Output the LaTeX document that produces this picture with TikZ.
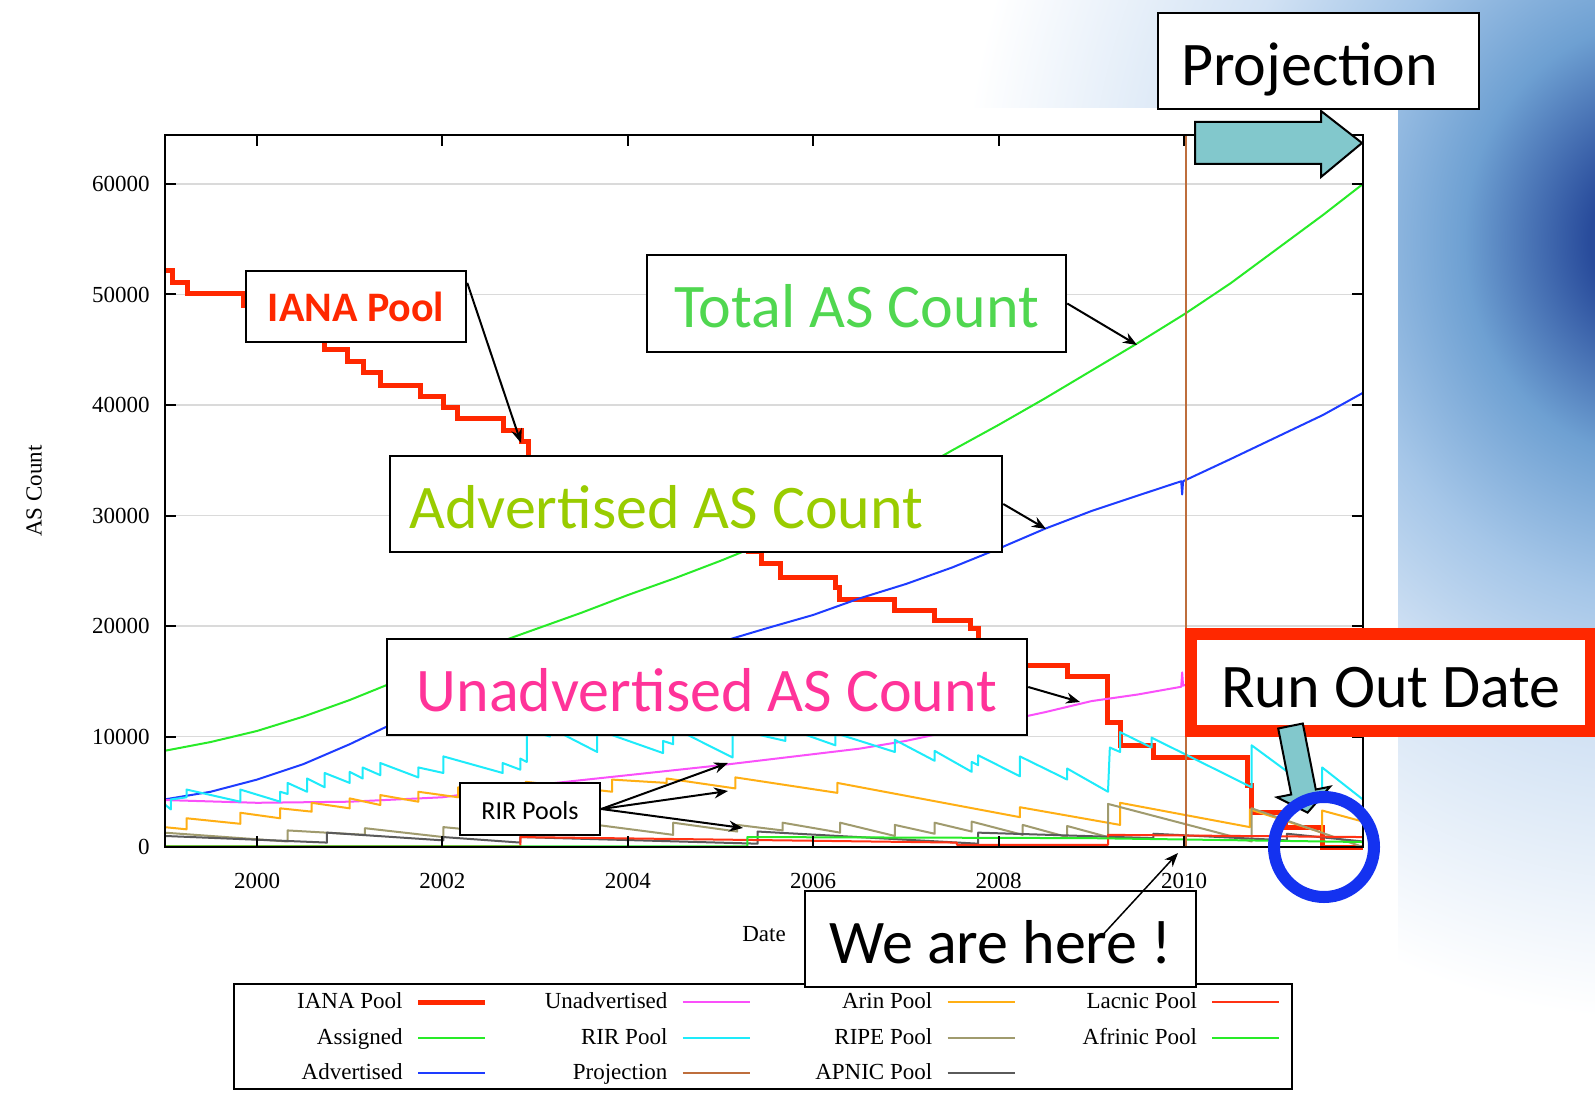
\documentclass[tikz,border=0pt]{standalone}
\usepackage{fontspec}
\setmainfont{Liberation Serif}
\newfontfamily\calibri{Carlito}
\usetikzlibrary{arrows.meta}

\definecolor{ianared}{RGB}{255,40,0}
\definecolor{assigngreen}{RGB}{40,235,40}
\definecolor{advblue}{RGB}{30,60,255}
\definecolor{unadvpink}{RGB}{250,80,250}
\definecolor{rircyan}{RGB}{30,235,250}
\definecolor{projbrown}{RGB}{190,110,60}
\definecolor{arinorange}{RGB}{255,175,20}
\definecolor{ripeolive}{RGB}{160,155,110}
\definecolor{apnicgray}{RGB}{90,90,90}
\definecolor{lacnicred}{RGB}{255,50,20}
\definecolor{afrinicgreen}{RGB}{40,235,40}
\definecolor{gridgray}{RGB}{218,218,218}
\definecolor{totalgreen}{RGB}{80,215,80}
\definecolor{advlabel}{RGB}{153,204,0}
\definecolor{unadvlabel}{RGB}{255,51,153}
\definecolor{runred}{RGB}{255,40,0}
\definecolor{circleblue}{RGB}{20,50,240}
\definecolor{arrowteal}{RGB}{130,200,204}
\definecolor{glownavy}{RGB}{40,75,155}
\definecolor{glowmid}{RGB}{110,160,210}
\definecolor{glowlight}{RGB}{165,198,232}
\definecolor{glowpale}{RGB}{210,226,244}

\pgfdeclareradialshading{slideglow}{\pgfpoint{0bp}{0bp}}{color(0bp)=(glownavy); color(2.5bp)=(glownavy); color(7bp)=(glowmid); color(11.5bp)=(glowlight); color(16bp)=(glowpale); color(25bp)=(white); color(50bp)=(white)}

\begin{document}
\begin{tikzpicture}[x=0.5pt,y=-0.5pt,
    plottext/.style={font=\fontsize{11.5}{13}\selectfont,inner sep=0pt},
    gridline/.style={gridgray,line width=0.75pt},
    curve/.style={line width=1pt,line join=round},
    notebox/.style={draw,line width=1.25pt,fill=white,inner sep=0pt},
    bigtext/.style={font=\calibri\fontsize{31}{36}\selectfont,text height=24.5pt,text depth=0pt},
    ptr/.style={-{Stealth[length=7pt,width=5.5pt]},line width=1pt},
    fatarrow/.style={fill=arrowteal,draw=black,line width=1pt}]
    \useasboundingbox (0,0) rectangle (1595,1096);
    \fill[white] (0,0) rectangle (1595,1096);
    \begin{scope}
        \clip (850,0) -- (1595,0) -- (1595,1096) -- (1398,1096) -- (1398,108) -- (850,108) -- cycle;
        \shade[shading=slideglow] (1660,240) ellipse (350pt and 390pt);
    \end{scope}

    \foreach \k in {1,...,6}
        \draw[gridline] (165,{847-110.5*\k}) -- (1363,{847-110.5*\k});

    % data, x in years after 2000, y in thousands
    \begin{scope}[shift={(257,847)},x={(46.35pt,0pt)},y={(0pt,5.525pt)}]
        \clip (-0.9925,-0.3) rectangle (11.93,64.4);
        \draw[ianared,line width=2.5pt] (-1,52.2) -- (-0.91,52.2) -- (-0.91,51.1) -- (-0.75,51.1) -- (-0.75,50.1) -- (-0.15,50.1) -- (-0.15,49) -- (0.1,49) -- (0.1,48) -- (0.3,48) -- (0.3,47) -- (0.5,47) -- (0.5,46) -- (0.73,46) -- (0.73,45) -- (0.98,45) -- (0.98,43.9) -- (1.15,43.9) -- (1.15,42.9) -- (1.33,42.9) -- (1.33,41.8) -- (1.76,41.8) -- (1.76,40.8) -- (2.01,40.8) -- (2.01,39.8) -- (2.16,39.8) -- (2.16,38.8) -- (2.66,38.8) -- (2.66,37.7) -- (2.85,37.7) -- (2.85,36.7) -- (2.93,36.7) -- (2.93,35) -- (3.3,35) -- (3.3,34.4) -- (3.7,34.4) -- (3.7,33.3) -- (4,33.3) -- (4,32.2) -- (4.3,32.2) -- (4.3,31.1) -- (4.6,31.1) -- (4.6,30) -- (4.9,30) -- (4.9,28.8) -- (5.1,28.8) -- (5.1,27.7) -- (5.3,27.7) -- (5.3,26.7) -- (5.44,26.7) -- (5.44,25.7) -- (5.65,25.7) -- (5.65,24.4) -- (6.24,24.4) -- (6.24,23.5) -- (6.28,23.5) -- (6.28,22.4) -- (6.88,22.4) -- (6.88,21.4) -- (7.31,21.4) -- (7.31,20.5) -- (7.7,20.5) -- (7.7,19.8) -- (7.78,19.8) -- (7.78,18.6) -- (8,18.6) -- (8,17.5) -- (8.15,17.5) -- (8.15,16.4) -- (8.74,16.4) -- (8.74,15.4) -- (9.17,15.4) -- (9.17,11.3) -- (9.31,11.3) -- (9.31,9.2) -- (9.67,9.2) -- (9.67,8.1) -- (10.69,8.1) -- (10.69,5.6) -- (10.73,5.6) -- (10.73,3.1) -- (11.09,3.1) -- (11.09,1.8) -- (11.49,1.8) -- (11.49,0) -- (11.93,0);
        \draw[assigngreen,curve] (-1,8.7) -- (-0.5,9.5) -- (0,10.5) -- (0.5,11.8) -- (1,13.3) -- (1.5,15) -- (2,16.7) -- (2.5,18.2) -- (3,19.7) -- (3.5,21.2) -- (4,22.8) -- (4.5,24.3) -- (5,25.9) -- (5.5,27.6) -- (6,29.6) -- (6.5,31.6) -- (7,33.5) -- (7.5,35.9) -- (8,38.2) -- (8.5,40.6) -- (9,43.1) -- (9.5,45.6) -- (10,48.2) -- (10.5,51) -- (11,54.1) -- (11.5,57.2) -- (11.93,60);
        \draw[advblue,curve] (-1,4.3) -- (-0.5,5) -- (0,6.1) -- (0.5,7.5) -- (1,9.3) -- (1.4,10.9) -- (2,12.8) -- (3,15) -- (4,16.9) -- (5.1,18.8) -- (5.5,19.8) -- (6,21) -- (6.5,22.5) -- (7,23.8) -- (7.5,25.3) -- (8,27) -- (8.5,28.8) -- (9,30.4) -- (9.5,31.8) -- (9.97,33.1) -- (9.98,31.9) -- (9.99,33.1) -- (10.5,35.1) -- (11,37.1) -- (11.5,39.1) -- (11.93,41.1);
        \draw[unadvpink,curve] (-1,4.25) -- (0,4) -- (1,4.1) -- (2,4.5) -- (3,5.6) -- (4,6.5) -- (5,7.4) -- (6,8.4) -- (6.5,8.9) -- (7,9.6) -- (7.5,10.5) -- (8,11.3) -- (8.5,12.2) -- (9,13.2) -- (9.5,13.8) -- (9.97,14.5) -- (9.98,15.8) -- (9.99,14.6) -- (10.02,14.7);
        \draw[rircyan,curve] (-1,3.9) -- (-0.93,3.4) -- (-0.93,4.3) -- (-0.76,4.5) -- (-0.76,5.2) -- (-0.18,4.1) -- (-0.18,5.2) -- (0.25,4.1) -- (0.25,5) -- (0.33,4.8) -- (0.33,5.8) -- (0.54,5) -- (0.54,6.2) -- (0.73,5.4) -- (0.73,6.7) -- (1,5.8) -- (1,6.8) -- (1.14,6.2) -- (1.14,7.2) -- (1.33,6.5) -- (1.33,7.6) -- (1.74,6.3) -- (1.74,7.2) -- (2.01,6.7) -- (2.01,8.2) -- (2.65,6.7) -- (2.65,7.6) -- (2.84,7) -- (2.84,8) -- (2.91,7.7) -- (2.91,10.6) -- (3.16,10) -- (3.16,10.8) -- (3.67,8.6) -- (3.67,10.6) -- (4.38,8.5) -- (4.38,9.6) -- (4.49,9.3) -- (4.49,10.8) -- (5.13,8.1) -- (5.13,10.7) -- (5.7,9.6) -- (5.7,10.8) -- (6.24,9.2) -- (6.24,10.3) -- (6.88,8.6) -- (6.88,9.7) -- (7.31,7.8) -- (7.31,8.7) -- (7.71,6.8) -- (7.71,7.7) -- (7.78,7.4) -- (7.78,8.3) -- (8.23,6.4) -- (8.23,8.2) -- (8.74,6.1) -- (8.74,7.1) -- (9.18,5) -- (9.2,9) -- (9.31,8.6) -- (9.31,10.4) -- (9.65,9) -- (9.65,9.9) -- (10.73,5.4) -- (10.73,9.2) -- (11.49,4.5) -- (11.49,7.2) -- (11.93,4.3);
        \draw[arinorange,curve] (-1,1.8) -- (-0.76,1.6) -- (-0.76,2.6) -- (-0.18,2.1) -- (-0.18,3.1) -- (0.25,2.6) -- (0.25,3.5) -- (0.59,3.2) -- (0.59,4) -- (1,3.5) -- (1,4.4) -- (1.33,3.8) -- (1.33,4.7) -- (1.74,4.1) -- (1.74,5) -- (2.17,4.5) -- (2.17,5.4) -- (2.9,5) -- (2.9,5.9) -- (3.83,5) -- (3.83,6.1) -- (4.42,5.8) -- (4.42,6.2) -- (5.16,5.3) -- (5.16,6.3) -- (6.26,4.9) -- (6.26,5.8) -- (8.23,2.7) -- (8.23,3.6) -- (9.31,2) -- (9.31,4) -- (10.71,1.8) -- (10.71,3.4) -- (11.49,1.3) -- (11.49,3.3) -- (11.93,2.3);
        \draw[ripeolive,curve] (-1,1.3) -- (0.33,0.5) -- (0.33,1.5) -- (1.165,1.1) -- (1.165,1.7) -- (2.01,0.9) -- (2.01,1.8) -- (2.89,1.1) -- (2.89,1.9) -- (3.3,1.5) -- (3.3,2.4) -- (4.49,1.1) -- (4.49,2.2) -- (5.18,1.4) -- (5.18,2) -- (5.67,1.5) -- (5.67,2.2) -- (6.29,1.3) -- (6.29,2.2) -- (6.88,1) -- (6.88,2) -- (7.31,1.2) -- (7.31,2.2) -- (7.71,1.4) -- (7.71,2.3) -- (8.26,1.1) -- (8.26,2) -- (8.74,0.9) -- (8.74,1.9) -- (9.18,0.9) -- (9.18,3.9) -- (10.73,0.5) -- (10.73,3.5) -- (11.93,0);
        \draw[apnicgray,curve] (-1,1) -- (0.755,0.4) -- (0.755,1.3) -- (2.01,0.6) -- (2.01,0.9) -- (2.84,0.4) -- (2.84,0.9) -- (5.4,0.3) -- (5.4,1.4) -- (7.78,0.3) -- (7.78,1.3) -- (9.67,0.8) -- (9.67,1.2) -- (11.11,0.6) -- (11.11,1.2) -- (11.93,0.5);
        \draw[lacnicred,curve] (-1,0.05) -- (2.84,0.05) -- (2.84,0.9) -- (7.55,0.4) -- (7.55,0.2) -- (9.18,0.2) -- (9.18,1.1) -- (11.93,0.9);
        \draw[afrinicgreen,curve] (-1,0.05) -- (5.29,0.05) -- (5.29,0.9) -- (9,0.8) -- (11.93,0.45);
    \end{scope}

    \draw[projbrown,line width=1pt] (1186,135) -- (1186,847);
    \draw[line width=1pt] (165,135) rectangle (1363,847);
    \foreach \v [count=\k from 0] in {0,10000,20000,30000,40000,50000,60000} {
        \draw[line width=1pt] (165,{847-110.5*\k}) -- +(11,0) (1363,{847-110.5*\k}) -- +(-11,0);
        \node[plottext,anchor=east] (ylab\k) at (150,{847-110.5*\k}) {\v};
    }
    \foreach \yr [count=\i from 0] in {2000,2002,2004,2006,2008,2010} {
        \draw[line width=1pt] ({257+185.4*\i},847) -- +(0,-11) ({257+185.4*\i},135) -- +(0,11);
        \node[plottext] (xlab\i) at ({257+185.4*\i},881) {\yr};
    }
    \node[plottext,rotate=90] (ylabel) at (34,491) {AS Count};
    \node[plottext] (xlabel) at (764,934) {Date};

    % key
    \draw[line width=0.75pt] (234,984) rectangle (1292,1089);
    \foreach \lab/\c/\r/\clr/\w in {IANA Pool/0/0/ianared/2.5pt, Assigned/0/1/assigngreen/1pt, Advertised/0/2/advblue/1pt,
            Unadvertised/1/0/unadvpink/1pt, RIR Pool/1/1/rircyan/1pt, Projection/1/2/projbrown/1pt,
            Arin Pool/2/0/arinorange/1pt, RIPE Pool/2/1/ripeolive/1pt, APNIC Pool/2/2/apnicgray/1pt,
            Lacnic Pool/3/0/lacnicred/1pt, Afrinic Pool/3/1/afrinicgreen/1pt} {
        \node[plottext,anchor=base east] (key-\c-\r) at ({403+264.8*\c},{1008.5+35.5*\r}) {\lab};
        \draw[\clr,line width=\w] ({418+264.8*\c},{1002+35.5*\r}) -- +(67,0);
    }

    % callouts
    \node[notebox,minimum width=110pt,minimum height=35.5pt,font=\calibri\bfseries\fontsize{21}{25}\selectfont,text height=15pt,text depth=0pt,text=ianared] (ianabox) at (356,306.5) {IANA Pool};
    \node[notebox,bigtext,minimum width=209.5pt,minimum height=48.5pt,text=totalgreen] (totalbox) at (856.5,303.5) {Total AS Count};
    \node[notebox,minimum width=306pt,minimum height=48pt] (advbox) at (696,504) {};
    \node[bigtext,anchor=west,inner sep=0pt,text=advlabel] (advtext) at ([xshift=10pt]advbox.west) {Advertised AS Count};
    \node[notebox,bigtext,minimum width=320pt,minimum height=48pt,text=unadvlabel] (unadvbox) at (707,687) {Unadvertised AS Count};
    \node[notebox,minimum width=70pt,minimum height=26pt,font=\calibri\fontsize{13}{15}\selectfont,text height=10pt,text depth=0pt] (rirbox) at (530,809) {RIR Pools};
    \node[notebox,minimum width=160.5pt,minimum height=48pt] (projbox) at (1318.5,61) {};
    \node[bigtext,anchor=west,inner sep=0pt] (projtext) at ([xshift=12pt]projbox.west) {Projection};
    \node[notebox,bigtext,minimum width=195.5pt,minimum height=48pt] (herebox) at (1000.5,939) {We are here !};

    \coordinate (ianatip) at (521,443);
    \coordinate (totaltip) at (1137,345);
    \coordinate (advtip) at (1046,529);
    \coordinate (unadvtip) at (1080,702);
    \coordinate (rirtipa) at (728,763);
    \coordinate (rirtipb) at (728,791);
    \coordinate (rirtipc) at (743,828);
    \coordinate (heretip) at (1178,853);
    \draw[ptr] (ianabox.12) -- (ianatip);
    \draw[ptr] (totalbox.east) -- (totaltip);
    \draw[ptr] (advbox.east) -- (advtip);
    \draw[ptr] (unadvbox.east) -- (unadvtip);
    \foreach \t in {a,b,c}
        \draw[ptr] (rirbox.east) -- (rirtip\t);
    \draw[ptr,line width=0.75pt] ([shift={(51.5pt,2.5pt)}]herebox.center) -- (heretip);

    \draw[fatarrow] (1195,122) -- (1321,122) -- (1321,111) -- (1362,143) -- (1321,177) -- (1321,164) -- (1195,164) -- cycle;

    \node[draw=runred,line width=6pt,fill=white,inner sep=0pt,bigtext,minimum width=200pt,minimum height=48.5pt] (runbox) at (1391,682.5) {Run Out Date};
    \draw[fatarrow] (1278.2,728.5) -- (1302.8,723.5) -- (1315.8,789.5) -- (1330,786.7) -- (1307.6,812.6) -- (1277,797.3) -- (1291.2,794.5) -- cycle;
    \node[circle,draw=circleblue,line width=6pt,minimum size=50pt,inner sep=0pt] (outcircle) at (1324,847) {};
\end{tikzpicture}
\end{document}
